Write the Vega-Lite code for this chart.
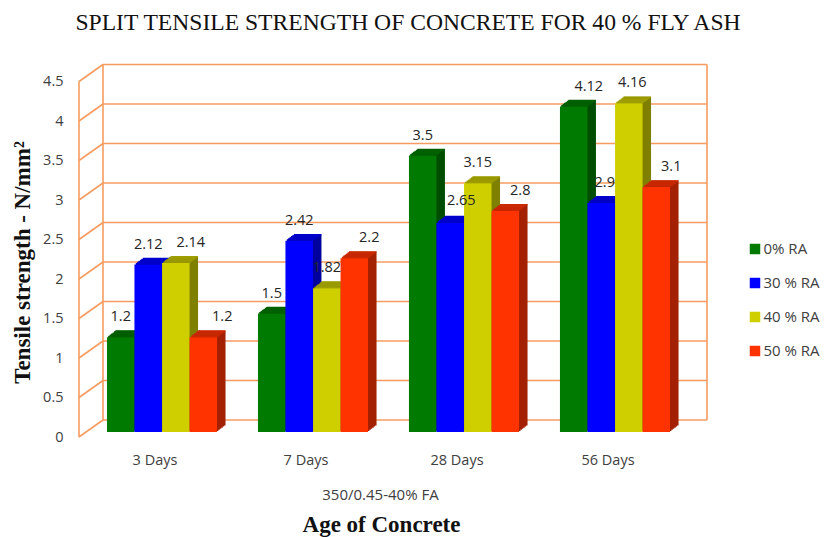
{"$schema":"https://vega.github.io/schema/vega-lite/v6.json","width":604,"height":355.5,"autosize":{"type":"none"},"padding":{"left":86.5,"top":76.5,"right":133.5,"bottom":105},"background":"white",
"title":{"text":"SPLIT TENSILE STRENGTH OF CONCRETE FOR 40 % FLY ASH","font":"Liberation Serif","fontSize":23.6,"fontWeight":"normal","color":"#111111","anchor":"middle","dx":19.5,"offset":29},
"config":{"view":{"stroke":null}},
"data":{"values":[
{"age":"3 Days","s":"0% RA","v":1.2},{"age":"3 Days","s":"30 % RA","v":2.12},{"age":"3 Days","s":"40 % RA","v":2.14},{"age":"3 Days","s":"50 % RA","v":1.2},
{"age":"7 Days","s":"0% RA","v":1.5},{"age":"7 Days","s":"30 % RA","v":2.42},{"age":"7 Days","s":"40 % RA","v":1.82},{"age":"7 Days","s":"50 % RA","v":2.2},
{"age":"28 Days","s":"0% RA","v":3.5},{"age":"28 Days","s":"30 % RA","v":2.65},{"age":"28 Days","s":"40 % RA","v":3.15},{"age":"28 Days","s":"50 % RA","v":2.8},
{"age":"56 Days","s":"0% RA","v":4.12},{"age":"56 Days","s":"30 % RA","v":2.9},{"age":"56 Days","s":"40 % RA","v":4.16},{"age":"56 Days","s":"50 % RA","v":3.1}]},
"resolve":{"scale":{"x":"independent"},"axis":{"y":"independent"}},
"layer":[
{"data":{"values":[{"t":0},{"t":0.5},{"t":1},{"t":1.5},{"t":2},{"t":2.5},{"t":3},{"t":3.5},{"t":4},{"t":4.5}]},
"encoding":{"y":{"field":"t","type":"quantitative","scale":{"domain":[0,4.5],"nice":false},
"axis":{"orient":"left","values":[0,0.5,1,1.5,2,2.5,3,3.5,4,4.5],"format":".1~f","labelOverlap":false,"labelFlush":false,"labelBound":false,"grid":false,"domain":false,"ticks":false,"labelPadding":23.5,"labelOffset":5,"labelFont":"Open Sans","labelFontSize":14.5,"labelColor":"#404040","title":"Tensile strength - N/mm²","titleFont":"Liberation Serif","titleFontSize":23,"titleFontWeight":"bold","titleColor":"#111111","titleAnchor":"middle","titleX":-52,"titleY":185.5,"titleAngle":-90}}},
"layer":[
{"mark":{"type":"rule","stroke":"#F79C60","strokeWidth":1.6,"xOffset":16.5,"x2Offset":16.5,"yOffset":-12,"y2Offset":-12},
"encoding":{"x":{"datum":0,"type":"quantitative","scale":{"domain":[0,1],"nice":false,"zero":false},"axis":{"orient":"bottom","labels":false,"domain":false,"ticks":false,"grid":false,"title":"350/0.45-40% FA","titleFont":"Open Sans","titleFontSize":15,"titleFontWeight":"normal","titleColor":"#404040","titleX":293.5,"titleY":55}},"x2":{"datum":1},"y2":{"field":"t"}}},
{"mark":{"type":"rule","stroke":"#F79C60","strokeWidth":1.6,"xOffset":-7.5,"x2Offset":16.5,"yOffset":5,"y2Offset":-12},
"encoding":{"x":{"datum":0,"type":"quantitative"},"x2":{"datum":0},"y2":{"field":"t"}}},
{"transform":[{"filter":"datum.t==0"}],"mark":{"type":"rule","stroke":"#F79C60","strokeWidth":1.6,"xOffset":-7.5,"x2Offset":-7.5,"yOffset":5,"y2Offset":5},
"encoding":{"x":{"datum":0,"type":"quantitative"},"x2":{"datum":0},"y2":{"datum":4.5}}},
{"transform":[{"filter":"datum.t==0"}],"mark":{"type":"rule","stroke":"#F79C60","strokeWidth":1.6,"xOffset":16.5,"x2Offset":16.5,"yOffset":-12,"y2Offset":-12},
"encoding":{"x":{"datum":0,"type":"quantitative"},"x2":{"datum":0},"y2":{"datum":4.5}}},
{"transform":[{"filter":"datum.t==0"}],"mark":{"type":"rule","stroke":"#F79C60","strokeWidth":1.6,"xOffset":16.5,"x2Offset":16.5,"yOffset":-12,"y2Offset":-12},
"encoding":{"x":{"datum":1,"type":"quantitative"},"x2":{"datum":1},"y2":{"datum":4.5}}}
]},
{"encoding":{
"x":{"field":"age","type":"nominal","scale":{"domain":["3 Days","7 Days","28 Days","56 Days"],"paddingInner":0.2715,"paddingOuter":0.13575},
"axis":{"orient":"bottom","domain":false,"ticks":false,"grid":false,"labelAngle":0,"labelPadding":21,"labelOffset":-7,"labelFont":"Open Sans","labelFontSize":14.5,"labelColor":"#404040","title":"Age of Concrete","titleFont":"Liberation Serif","titleFontSize":23,"titleFontWeight":"bold","titleColor":"#111111","titleX":294.5,"titleY":81}},
"y":{"field":"v","type":"quantitative","axis":null}},
"layer":[
{"transform":[{"filter":"datum.s=='0% RA'"}],"layer":[
{"mark":{"type":"bar","width":27.5,"color":"#004D00","xOffset":-32.8,"yOffset":-6.5,"y2Offset":-6.5}},
{"mark":{"type":"bar","width":27.5,"color":"#004D00","xOffset":-34.2,"yOffset":-5.4,"y2Offset":-5.4}},
{"mark":{"type":"bar","width":27.5,"color":"#004D00","xOffset":-35.6,"yOffset":-4.3,"y2Offset":-4.3}},
{"mark":{"type":"bar","width":27.5,"color":"#004D00","xOffset":-37.1,"yOffset":-3.2,"y2Offset":-3.2}},
{"mark":{"type":"bar","width":27.5,"color":"#004D00","xOffset":-38.5,"yOffset":-2.2,"y2Offset":-2.2}},
{"mark":{"type":"bar","width":27.5,"color":"#004D00","xOffset":-39.9,"yOffset":-1.1,"y2Offset":-1.1}},
{"mark":{"type":"rect","width":27.5,"stroke":"#006000","strokeWidth":1.3,"xOffset":-32.8,"yOffset":-6.2,"y2Offset":-6.2},"encoding":{"y2":{"field":"v"}}},
{"mark":{"type":"rect","width":27.5,"stroke":"#006000","strokeWidth":1.3,"xOffset":-34.2,"yOffset":-5.2,"y2Offset":-5.2},"encoding":{"y2":{"field":"v"}}},
{"mark":{"type":"rect","width":27.5,"stroke":"#006000","strokeWidth":1.3,"xOffset":-35.6,"yOffset":-4.1,"y2Offset":-4.1},"encoding":{"y2":{"field":"v"}}},
{"mark":{"type":"rect","width":27.5,"stroke":"#006000","strokeWidth":1.3,"xOffset":-37.1,"yOffset":-3,"y2Offset":-3},"encoding":{"y2":{"field":"v"}}},
{"mark":{"type":"rect","width":27.5,"stroke":"#006000","strokeWidth":1.3,"xOffset":-38.5,"yOffset":-2,"y2Offset":-2},"encoding":{"y2":{"field":"v"}}},
{"mark":{"type":"rect","width":27.5,"stroke":"#006000","strokeWidth":1.3,"xOffset":-39.9,"yOffset":-0.9,"y2Offset":-0.9},"encoding":{"y2":{"field":"v"}}},
{"mark":{"type":"bar","width":27.5,"xOffset":-41.3},"encoding":{"color":{"field":"s","type":"nominal","scale":{"domain":["0% RA","30 % RA","40 % RA","50 % RA"],"range":["#007A00","#0000FF","#CFCF00","#FF3300"]},
"legend":{"orient":"none","legendX":661,"legendY":165,"title":null,"symbolType":"square","symbolSize":110,"symbolStrokeWidth":0,"labelFont":"Open Sans","labelFontSize":15,"labelColor":"#404040","rowPadding":18,"labelOffset":1}}}}
]},
{"transform":[{"filter":"datum.s=='30 % RA'"}],"layer":[
{"mark":{"type":"bar","width":27.5,"color":"#00009E","xOffset":-5.3,"yOffset":-6.5,"y2Offset":-6.5}},
{"mark":{"type":"bar","width":27.5,"color":"#00009E","xOffset":-6.7,"yOffset":-5.4,"y2Offset":-5.4}},
{"mark":{"type":"bar","width":27.5,"color":"#00009E","xOffset":-8.1,"yOffset":-4.3,"y2Offset":-4.3}},
{"mark":{"type":"bar","width":27.5,"color":"#00009E","xOffset":-9.6,"yOffset":-3.2,"y2Offset":-3.2}},
{"mark":{"type":"bar","width":27.5,"color":"#00009E","xOffset":-11,"yOffset":-2.2,"y2Offset":-2.2}},
{"mark":{"type":"bar","width":27.5,"color":"#00009E","xOffset":-12.4,"yOffset":-1.1,"y2Offset":-1.1}},
{"mark":{"type":"rect","width":27.5,"stroke":"#0000CC","strokeWidth":1.3,"xOffset":-5.3,"yOffset":-6.2,"y2Offset":-6.2},"encoding":{"y2":{"field":"v"}}},
{"mark":{"type":"rect","width":27.5,"stroke":"#0000CC","strokeWidth":1.3,"xOffset":-6.7,"yOffset":-5.2,"y2Offset":-5.2},"encoding":{"y2":{"field":"v"}}},
{"mark":{"type":"rect","width":27.5,"stroke":"#0000CC","strokeWidth":1.3,"xOffset":-8.1,"yOffset":-4.1,"y2Offset":-4.1},"encoding":{"y2":{"field":"v"}}},
{"mark":{"type":"rect","width":27.5,"stroke":"#0000CC","strokeWidth":1.3,"xOffset":-9.6,"yOffset":-3,"y2Offset":-3},"encoding":{"y2":{"field":"v"}}},
{"mark":{"type":"rect","width":27.5,"stroke":"#0000CC","strokeWidth":1.3,"xOffset":-11,"yOffset":-2,"y2Offset":-2},"encoding":{"y2":{"field":"v"}}},
{"mark":{"type":"rect","width":27.5,"stroke":"#0000CC","strokeWidth":1.3,"xOffset":-12.4,"yOffset":-0.9,"y2Offset":-0.9},"encoding":{"y2":{"field":"v"}}},
{"mark":{"type":"bar","width":27.5,"xOffset":-13.8},"encoding":{"color":{"field":"s","type":"nominal"}}}
]},
{"transform":[{"filter":"datum.s=='40 % RA'"}],"layer":[
{"mark":{"type":"bar","width":27.5,"color":"#808000","xOffset":22.3,"yOffset":-6.5,"y2Offset":-6.5}},
{"mark":{"type":"bar","width":27.5,"color":"#808000","xOffset":20.9,"yOffset":-5.4,"y2Offset":-5.4}},
{"mark":{"type":"bar","width":27.5,"color":"#808000","xOffset":19.5,"yOffset":-4.3,"y2Offset":-4.3}},
{"mark":{"type":"bar","width":27.5,"color":"#808000","xOffset":18,"yOffset":-3.2,"y2Offset":-3.2}},
{"mark":{"type":"bar","width":27.5,"color":"#808000","xOffset":16.6,"yOffset":-2.2,"y2Offset":-2.2}},
{"mark":{"type":"bar","width":27.5,"color":"#808000","xOffset":15.2,"yOffset":-1.1,"y2Offset":-1.1}},
{"mark":{"type":"rect","width":27.5,"stroke":"#9E9E00","strokeWidth":1.3,"xOffset":22.3,"yOffset":-6.2,"y2Offset":-6.2},"encoding":{"y2":{"field":"v"}}},
{"mark":{"type":"rect","width":27.5,"stroke":"#9E9E00","strokeWidth":1.3,"xOffset":20.9,"yOffset":-5.2,"y2Offset":-5.2},"encoding":{"y2":{"field":"v"}}},
{"mark":{"type":"rect","width":27.5,"stroke":"#9E9E00","strokeWidth":1.3,"xOffset":19.5,"yOffset":-4.1,"y2Offset":-4.1},"encoding":{"y2":{"field":"v"}}},
{"mark":{"type":"rect","width":27.5,"stroke":"#9E9E00","strokeWidth":1.3,"xOffset":18,"yOffset":-3,"y2Offset":-3},"encoding":{"y2":{"field":"v"}}},
{"mark":{"type":"rect","width":27.5,"stroke":"#9E9E00","strokeWidth":1.3,"xOffset":16.6,"yOffset":-2,"y2Offset":-2},"encoding":{"y2":{"field":"v"}}},
{"mark":{"type":"rect","width":27.5,"stroke":"#9E9E00","strokeWidth":1.3,"xOffset":15.2,"yOffset":-0.9,"y2Offset":-0.9},"encoding":{"y2":{"field":"v"}}},
{"mark":{"type":"bar","width":27.5,"xOffset":13.8},"encoding":{"color":{"field":"s","type":"nominal"}}}
]},
{"transform":[{"filter":"datum.s=='50 % RA'"}],"layer":[
{"mark":{"type":"bar","width":27.5,"color":"#A32100","xOffset":49.8,"yOffset":-6.5,"y2Offset":-6.5}},
{"mark":{"type":"bar","width":27.5,"color":"#A32100","xOffset":48.4,"yOffset":-5.4,"y2Offset":-5.4}},
{"mark":{"type":"bar","width":27.5,"color":"#A32100","xOffset":47,"yOffset":-4.3,"y2Offset":-4.3}},
{"mark":{"type":"bar","width":27.5,"color":"#A32100","xOffset":45.5,"yOffset":-3.2,"y2Offset":-3.2}},
{"mark":{"type":"bar","width":27.5,"color":"#A32100","xOffset":44.1,"yOffset":-2.2,"y2Offset":-2.2}},
{"mark":{"type":"bar","width":27.5,"color":"#A32100","xOffset":42.7,"yOffset":-1.1,"y2Offset":-1.1}},
{"mark":{"type":"rect","width":27.5,"stroke":"#CC2900","strokeWidth":1.3,"xOffset":49.8,"yOffset":-6.2,"y2Offset":-6.2},"encoding":{"y2":{"field":"v"}}},
{"mark":{"type":"rect","width":27.5,"stroke":"#CC2900","strokeWidth":1.3,"xOffset":48.4,"yOffset":-5.2,"y2Offset":-5.2},"encoding":{"y2":{"field":"v"}}},
{"mark":{"type":"rect","width":27.5,"stroke":"#CC2900","strokeWidth":1.3,"xOffset":47,"yOffset":-4.1,"y2Offset":-4.1},"encoding":{"y2":{"field":"v"}}},
{"mark":{"type":"rect","width":27.5,"stroke":"#CC2900","strokeWidth":1.3,"xOffset":45.5,"yOffset":-3,"y2Offset":-3},"encoding":{"y2":{"field":"v"}}},
{"mark":{"type":"rect","width":27.5,"stroke":"#CC2900","strokeWidth":1.3,"xOffset":44.1,"yOffset":-2,"y2Offset":-2},"encoding":{"y2":{"field":"v"}}},
{"mark":{"type":"rect","width":27.5,"stroke":"#CC2900","strokeWidth":1.3,"xOffset":42.7,"yOffset":-0.9,"y2Offset":-0.9},"encoding":{"y2":{"field":"v"}}},
{"mark":{"type":"bar","width":27.5,"xOffset":41.3},"encoding":{"color":{"field":"s","type":"nominal"}}}
]},
{"encoding":{"text":{"field":"v","type":"nominal"},"xOffset":{"field":"s","type":"nominal","scale":{"domain":["0% RA","30 % RA","40 % RA","50 % RA"]}}},"layer":[
{"transform":[{"filter":"datum.v==2.9||datum.v==4.16"}],"mark":{"type":"text","font":"Open Sans","fontSize":14.5,"color":"#262626","dx":3.5,"dy":-20}},
{"transform":[{"filter":"datum.v==2.65"}],"mark":{"type":"text","font":"Open Sans","fontSize":14.5,"color":"#262626","dx":11,"dy":-22}},
{"transform":[{"filter":"datum.v==2.14||datum.v==2.2||datum.v==2.8||datum.v==4.12||datum.v==3.1"}],"mark":{"type":"text","font":"Open Sans","fontSize":14.5,"color":"#262626","dx":15,"dy":-20}},
{"transform":[{"filter":"datum.v==1.2&&datum.s=='50 % RA'"}],"mark":{"type":"text","font":"Open Sans","fontSize":14.5,"color":"#262626","dx":19,"dy":-20}},
{"transform":[{"filter":"datum.v==1.5||datum.v==2.42||datum.v==1.82||datum.v==3.5||datum.v==3.15||datum.v==2.12||(datum.v==1.2&&datum.s=='0% RA')"}],"mark":{"type":"text","font":"Open Sans","fontSize":14.5,"color":"#262626","dy":-20}}
]}
]}
]}
